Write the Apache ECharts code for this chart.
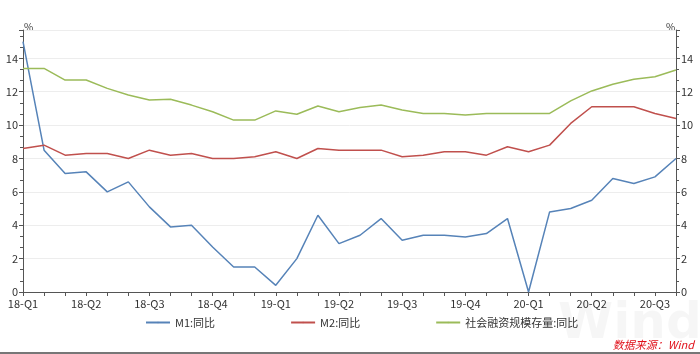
<!DOCTYPE html>
<html>
<head>
<meta charset="utf-8">
<script src="https://cdn.jsdelivr.net/npm/echarts@6/dist/echarts.min.js"></script>
<style>html,body{margin:0;padding:0;background:#fff;}#c{width:700px;height:354px;}</style>
</head>
<body>
<div id="c"></div>
<script>
var months = ['2018-01','2018-02','2018-03','2018-04','2018-05','2018-06','2018-07','2018-08','2018-09','2018-10','2018-11','2018-12',
              '2019-01','2019-02','2019-03','2019-04','2019-05','2019-06','2019-07','2019-08','2019-09','2019-10','2019-11','2019-12',
              '2020-01','2020-02','2020-03','2020-04','2020-05','2020-06','2020-07','2020-08'];
var quarterLabels = ['18-Q1','18-Q2','18-Q3','18-Q4','19-Q1','19-Q2','19-Q3','19-Q4','20-Q1','20-Q2','20-Q3'];
var m1 = [15.0,8.5,7.1,7.2,6.0,6.6,5.1,3.9,4.0,2.7,1.5,1.5,0.4,2.0,4.6,2.9,3.4,4.4,3.1,3.4,3.4,3.3,3.5,4.4,0.0,4.8,5.0,5.5,6.8,6.5,6.9,8.0];
var m2 = [8.6,8.8,8.2,8.3,8.3,8.0,8.5,8.2,8.3,8.0,8.0,8.1,8.4,8.0,8.6,8.5,8.5,8.5,8.1,8.2,8.4,8.4,8.2,8.7,8.4,8.8,10.1,11.1,11.1,11.1,10.7,10.4];
var tsf = [13.4,13.4,12.7,12.7,12.2,11.8,11.5,11.55,11.2,10.8,10.3,10.3,10.85,10.65,11.15,10.8,11.05,11.2,10.9,10.7,10.7,10.6,10.7,10.7,10.7,10.7,11.45,12.05,12.45,12.75,12.9,13.3];
var seriesNames = ['M1:同比','M2:同比','社会融资规模存量:同比'];
var colors = ['#5683b8','#c0504d','#9bbb59'];

var font = '"Noto Sans CJK SC", "Microsoft YaHei", sans-serif';
var axisColor = '#555';
function yAxis(pos, showSplit){
  return {
    type:'value', position:pos, min:0, max:15.7, interval:2,
    axisLine:{show:true, lineStyle:{color:axisColor, width:1}},
    axisTick:{show:true, length:4, lineStyle:{color:axisColor}},
    minorTick:{show:true, splitNumber:3, length:3, lineStyle:{color:axisColor}},
    axisLabel:{color:'#333', fontSize:11, fontFamily:font, margin:5, showMaxLabel:false,
      formatter:function(v){ return (v%2===0 && v<=14) ? String(v) : ''; }},
    splitLine:{show:showSplit, lineStyle:{color:'#ededed', width:1}}
  };
}
var chart = echarts.init(document.getElementById('c'), null, {renderer:'canvas'});
chart.setOption({
  animation:false,
  backgroundColor:'#fff',
  grid:{left:23, right:24, top:30, bottom:62, containLabel:false},
  legend:{
    data:seriesNames, bottom:21, left:140, itemGap:75, itemWidth:24, itemHeight:2,
    textStyle:{color:'#333', fontSize:11, fontFamily:font}
  },
  xAxis:{
    type:'category', data:months, boundaryGap:false,
    axisLine:{lineStyle:{color:axisColor}},
    axisTick:{show:true, interval:0, length:4, lineStyle:{color:axisColor}},
    axisLabel:{interval:0, color:'#333', fontSize:11, fontFamily:font, margin:6,
      formatter:function(v,i){ return i%3===0 ? quarterLabels[i/3] : ''; }},
    splitLine:{show:false}
  },
  yAxis:[yAxis('left', true), yAxis('right', false)],
  graphic:[
    {type:'text', left:24, top:22, style:{text:'%', fontSize:10, fontFamily:font, fill:'#333'}},
    {type:'text', left:666, top:22, style:{text:'%', fontSize:10, fontFamily:font, fill:'#333'}},
    {type:'text', left:558, top:300, z:-1, style:{text:'Wind', fontSize:50, fontWeight:'bold', fontFamily:'"DejaVu Sans", sans-serif', fill:'rgba(0,0,0,0.035)'}},
    {type:'text', right:6, top:339, style:{text:'数据来源：Wind', fontSize:11, fontStyle:'italic', fontFamily:font, fill:'#e0101a'}},
    {type:'rect', left:0, top:352, shape:{width:700, height:2}, style:{fill:'#777'}}
  ],
  series:[
    {name:seriesNames[0], type:'line', data:m1, symbol:'none', yAxisIndex:0, lineStyle:{color:colors[0], width:1.5}, itemStyle:{color:colors[0]}},
    {name:seriesNames[1], type:'line', data:m2, symbol:'none', yAxisIndex:0, lineStyle:{color:colors[1], width:1.5}, itemStyle:{color:colors[1]}},
    {name:seriesNames[2], type:'line', data:tsf, symbol:'none', yAxisIndex:0, lineStyle:{color:colors[2], width:1.5}, itemStyle:{color:colors[2]}}
  ]
});
</script>
</body>
</html>
